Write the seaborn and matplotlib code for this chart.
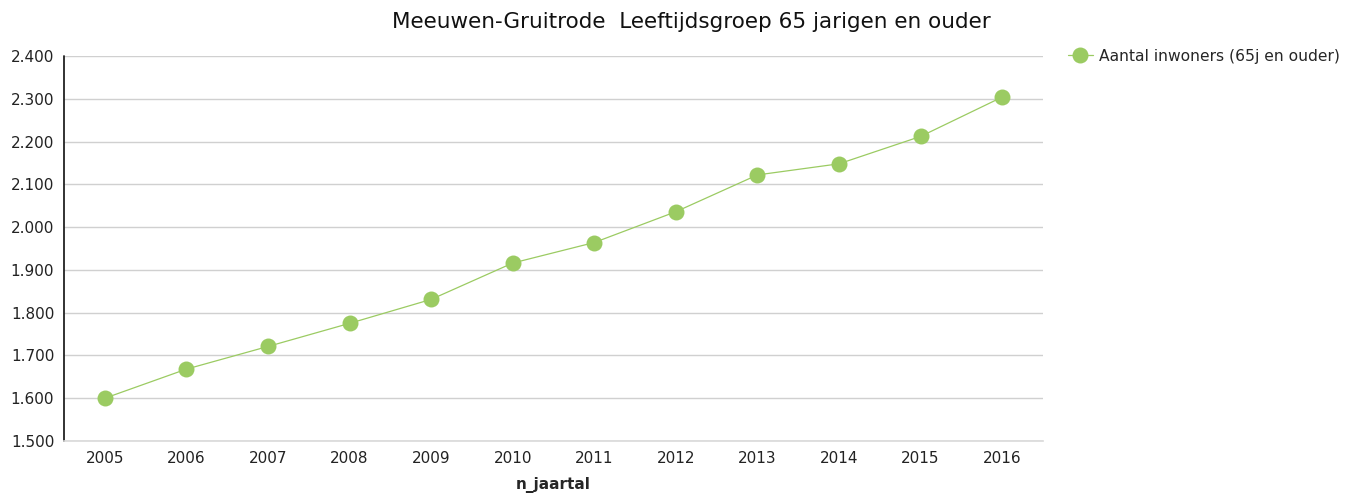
import pandas as pd
import matplotlib.pyplot as plt
import seaborn as sns
from matplotlib.lines import Line2D
from matplotlib.ticker import FuncFormatter

# Data
years = ['2005', '2006', '2007', '2008', '2009', '2010',
         '2011', '2012', '2013', '2014', '2015', '2016']
inwoners = [1600, 1668, 1721, 1775, 1831, 1916,
            1964, 2036, 2122, 2148, 2212, 2304]

series_label = 'Aantal inwoners (65j en ouder)'
title = 'Meeuwen-Gruitrode  Leeftijdsgroep 65 jarigen en ouder'
green = '#9BCB62'

sns.set_theme(style='white')
plt.rcParams['font.family'] = ['DejaVu Sans']

df = pd.DataFrame({'n_jaartal': years, 'inwoners': inwoners})

fig = plt.figure(figsize=(13.52, 4.96), dpi=100)
ax = fig.add_axes([64 / 1352, 55 / 496, (1043 - 64) / 1352, (441 - 56) / 496])

sns.lineplot(data=df, x='n_jaartal', y='inwoners', ax=ax, sort=False,
             color=green, linewidth=0.9, marker='o', markersize=11.5,
             markeredgewidth=0, zorder=3)

ax.set_xlim(-0.5, len(years) - 0.5)
ax.set_ylim(1500, 2400)
ax.set_yticks(range(1500, 2401, 100))
ax.yaxis.set_major_formatter(FuncFormatter(lambda v, p: f'{v:,.0f}'.replace(',', '.')))
ax.grid(axis='y', color='#d0d0d0', linewidth=1)
ax.set_axisbelow(True)

for s in ['top', 'right', 'left']:
    ax.spines[s].set_visible(False)
ax.spines['bottom'].set_color('#d9d9d9')
ax.spines['bottom'].set_linewidth(1.2)
ax.axvline(-0.5, color='#222222', linewidth=1.3, zorder=2, clip_on=False)

ax.tick_params(axis='both', length=0, labelsize=11, colors='#222222', pad=7)
ax.set_ylabel('')
ax.set_xlabel('n_jaartal', fontsize=11, fontweight='bold', labelpad=8)

handle = Line2D([], [], linestyle='-', linewidth=0.9, marker='o', markersize=11.5,
                markeredgewidth=0, color=green)
fig.legend([handle], [series_label], loc='center left',
           bbox_to_anchor=(1068 / 1352, 1 - 56 / 496), frameon=False,
           fontsize=11.2, handlelength=1.6, handletextpad=0.4, borderaxespad=0,
           borderpad=0)

fig.text(691 / 1352, 1 - 22 / 496, title, ha='center', va='center',
         fontsize=15.5, color='#111111')

fig.savefig('out.png', dpi=100)
